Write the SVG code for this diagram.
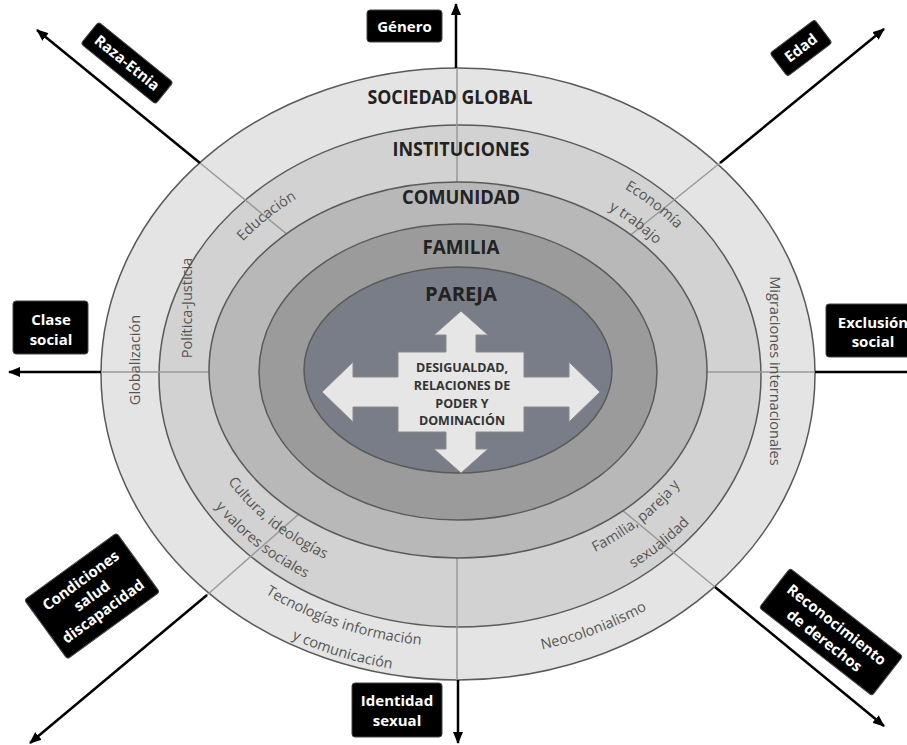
<svg xmlns="http://www.w3.org/2000/svg" width="907" height="745" viewBox="0 0 907 745">
<style>
.ring{stroke:#5a5a5a;stroke-width:1.5}
.div{stroke:#9a9a9a;stroke-width:1.5;fill:none}
.ax{stroke:#000;stroke-width:2.5;fill:none;marker-end:url(#ah)}
.title{font-family:"Open Sans","Liberation Sans",sans-serif;font-weight:700;font-size:20px;fill:#222;text-anchor:middle}
.sub{font-family:"Open Sans","Liberation Sans",sans-serif;font-size:14.5px;fill:#555}
.lb rect{fill:#000;stroke:#444;stroke-width:1}
.lb text{font-family:"Open Sans","Liberation Sans",sans-serif;font-weight:700;font-size:15px;fill:#fff;text-anchor:middle}
.ctr{font-family:"Open Sans","Liberation Sans",sans-serif;font-weight:700;font-size:12.5px;fill:#333;text-anchor:middle}
</style>
<defs>
<marker id="ah" markerUnits="userSpaceOnUse" markerWidth="12" markerHeight="10" refX="11" refY="5" orient="auto"><path d="M0,0 L12,5 L0,10 z" fill="#000"/></marker>
<path id="pTec" d="M201.5,541.8 A325.5,272.5 0 0 0 503.3,643.9"/>
<path id="pCom" d="M195.7,574.7 A353,300 0 0 0 507.1,671.1"/>
<path id="pNeo" d="M428.6,657.4 A337.5,284.5 0 0 0 734.5,537.2"/>
<path id="pCul" d="M199.4,425.6 A266.5,213.5 0 0 0 384.5,579.2"/>
<path id="pVal" d="M175.9,435.9 A292,239 0 0 0 382.4,604.9"/>
<path id="pFam" d="M530.2,574.9 A262,209 0 0 0 712.2,424.6"/>
<path id="pSex" d="M536.7,606.7 A294.5,241.5 0 0 0 743.1,434.5"/>
<path id="pEdu" d="M202.6,301.2 A271,218 0 0 1 363.1,169.8"/>
<path id="pEco" d="M551.8,157.5 A282.5,229.5 0 0 1 722.4,293.3"/>
<path id="pTra" d="M542.8,181.9 A256.5,203.5 0 0 1 697.9,302.1"/>
</defs>
<rect width="907" height="745" fill="#fff"/>

<g id="sociedad-global">
<ellipse class="ring" cx="458" cy="374" rx="357" ry="306" fill="#e4e4e4"/>
</g>
<g id="instituciones">
<ellipse class="ring" cx="460" cy="376" rx="301" ry="251" fill="#d2d2d2"/>
</g>

<g id="connectors">
<line class="div" x1="457" y1="374" x2="457" y2="68"/>
<line class="div" x1="457" y1="374" x2="457" y2="680"/>
<line class="div" x1="458" y1="372" x2="101" y2="372"/>
<line class="div" x1="458" y1="372" x2="815" y2="372"/>
<line class="div" x1="458" y1="374" x2="200" y2="163"/>
<line class="div" x1="458" y1="374" x2="720" y2="163"/>
<line class="div" x1="458" y1="374" x2="207" y2="595"/>
<line class="div" x1="458" y1="374" x2="715" y2="587"/>
</g>

<g id="comunidad">
<ellipse class="ring" cx="458" cy="370" rx="249" ry="188" fill="#b8b8b8"/>
</g>
<g id="familia">
<ellipse class="ring" cx="458" cy="372" rx="199" ry="148" fill="#9b9b9b"/>
</g>
<g id="pareja">
<ellipse class="ring" cx="458" cy="370" rx="154" ry="103" fill="#797d87"/>
</g>

<g id="ring-titles">
<text class="title" x="450" y="104" textLength="165" lengthAdjust="spacingAndGlyphs">SOCIEDAD GLOBAL</text>
<text class="title" x="461" y="156" textLength="137" lengthAdjust="spacingAndGlyphs">INSTITUCIONES</text>
<text class="title" x="461" y="204" textLength="118" lengthAdjust="spacingAndGlyphs">COMUNIDAD</text>
<text class="title" x="461" y="254" textLength="77" lengthAdjust="spacingAndGlyphs">FAMILIA</text>
<text class="title" x="461" y="301" textLength="72" lengthAdjust="spacingAndGlyphs">PAREJA</text>
</g>

<g id="ring-sectors">
<text class="sub" transform="translate(140,360) rotate(-90)" text-anchor="middle">Globalización</text>
<text class="sub" transform="translate(192,308) rotate(-90)" text-anchor="middle">Política-Justicia</text>
<text class="sub" transform="translate(770,371) rotate(90)" text-anchor="middle">Migraciones internacionales</text>
<text class="sub"><textPath href="#pEdu" startOffset="50%" text-anchor="middle">Educación</textPath></text>
<text class="sub"><textPath href="#pEco" startOffset="50%" text-anchor="middle">Economía</textPath><textPath href="#pTra" startOffset="50%" text-anchor="middle">y trabajo</textPath></text>
<text class="sub"><textPath href="#pCul" startOffset="50%" text-anchor="middle">Cultura, ideologías</textPath><textPath href="#pVal" startOffset="50%" text-anchor="middle">y valores sociales</textPath></text>
<text class="sub"><textPath href="#pFam" startOffset="50%" text-anchor="middle">Familia, pareja y</textPath><textPath href="#pSex" startOffset="50%" text-anchor="middle">sexualidad</textPath></text>
<text class="sub"><textPath href="#pTec" startOffset="50%" text-anchor="middle">Tecnologías información</textPath><textPath href="#pCom" startOffset="50%" text-anchor="middle">y comunicación</textPath></text>
<text class="sub"><textPath href="#pNeo" startOffset="50%" text-anchor="middle">Neocolonialismo</textPath></text>
</g>

<g id="centro">
<path d="M461,311 L488,335 L476,335 L476,352 L524,352 L524,377 L569,377 L569,362 L600,392 L569,422 L569,407 L524,407 L524,432 L476,432 L476,449 L488,449 L461,473 L434,449 L446,449 L446,432 L398,432 L398,407 L353,407 L353,422 L322,392 L353,362 L353,377 L398,377 L398,352 L446,352 L446,335 L434,335 Z" fill="#e6e6e6" stroke="#8a8a8a" stroke-width="1"/>
<text class="ctr" x="462" y="372">DESIGUALDAD,</text>
<text class="ctr" x="462" y="390">RELACIONES DE</text>
<text class="ctr" x="462" y="408">PODER Y</text>
<text class="ctr" x="462" y="425">DOMINACIÓN</text>
</g>

<g id="ejes">
<line class="ax" x1="456" y1="68" x2="456" y2="4"/>
<line class="ax" x1="458" y1="680" x2="458" y2="743"/>
<line class="ax" x1="101" y1="372" x2="9" y2="372"/>
<line x1="815" y1="372" x2="907" y2="372" stroke="#000" stroke-width="2.5"/>
<line class="ax" x1="200" y1="163" x2="37" y2="30"/>
<line class="ax" x1="720" y1="163" x2="884" y2="29"/>
<line class="ax" x1="207" y1="595" x2="30" y2="743"/>
<line class="ax" x1="715" y1="587" x2="884" y2="726"/>
</g>

<g id="genero" class="lb">
<rect x="367" y="10" width="75" height="32" rx="3"/>
<text x="404.5" y="32">Género</text>
</g>
<g id="raza-etnia" class="lb" transform="translate(127,63) rotate(39)">
<rect x="-48" y="-14" width="96" height="28" rx="3"/>
<text x="0" y="5">Raza-Etnia</text>
</g>
<g id="edad" class="lb" transform="translate(801,48) rotate(-37)">
<rect x="-28" y="-14.5" width="56" height="29" rx="3"/>
<text x="0" y="5">Edad</text>
</g>
<g id="clase-social" class="lb">
<rect x="13" y="301" width="75" height="53" rx="3"/>
<text x="51" y="325">Clase</text>
<text x="51" y="345">social</text>
</g>
<g id="exclusion-social" class="lb">
<rect x="826" y="304" width="95" height="53" rx="3"/>
<text x="873" y="328">Exclusión</text>
<text x="873" y="347">social</text>
</g>
<g id="condiciones" class="lb" transform="translate(92,596) rotate(-36)">
<rect x="-57" y="-36.5" width="114" height="73" rx="3"/>
<text x="0" y="-14">Condiciones</text>
<text x="0" y="5">salud</text>
<text x="0" y="24">discapacidad</text>
</g>
<g id="reconocimiento" class="lb" transform="translate(831,632) rotate(38)">
<rect x="-71.5" y="-25" width="143" height="50" rx="3"/>
<text x="0" y="-4">Reconocimiento</text>
<text x="0" y="16">de derechos</text>
</g>
<g id="identidad-sexual" class="lb">
<rect x="352" y="683" width="90" height="54" rx="3"/>
<text x="397" y="706">Identidad</text>
<text x="397" y="726">sexual</text>
</g>
</svg>
